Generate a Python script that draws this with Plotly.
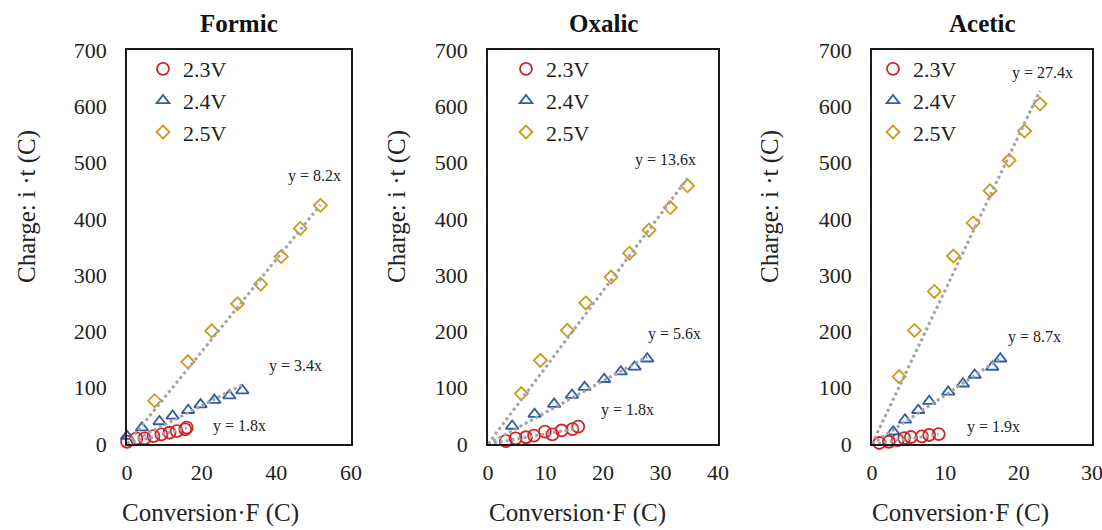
import plotly.graph_objects as go

W, H = 1102, 530

# ---- data -------------------------------------------------------------
panels = ["Formic", "Oxalic", "Acetic"]
voltages = ["2.3V", "2.4V", "2.5V"]

# Formic
formic_23_x = [0.0, 2.5, 4.7, 7.1, 9.2, 11.4, 13.3, 15.6, 16.0]
formic_23_y = [4, 10, 10, 14, 17, 20, 23, 26, 29]
formic_24_x = [0.0, 4.0, 8.7, 12.2, 16.4, 19.7, 23.4, 27.4, 30.9]
formic_24_y = [14, 29, 40, 50, 60, 70, 78, 86, 95]
formic_25_x = [7.4, 16.3, 22.7, 29.6, 35.8, 41.3, 46.4, 51.8]
formic_25_y = [77, 146, 201, 249, 284, 333, 383, 424]
formic_slopes = [1.8, 3.4, 8.2]

# Oxalic
oxalic_23_x = [3.1, 4.8, 6.6, 8.0, 9.9, 11.2, 12.8, 14.7, 15.7]
oxalic_23_y = [5, 10, 12, 15, 22, 17, 24, 26.5, 30.7]
oxalic_24_x = [4.2, 8.1, 11.5, 14.6, 16.8, 20.2, 23.1, 25.5, 27.7]
oxalic_24_y = [32, 53, 71, 87, 101, 115, 128.5, 137, 151.5]
oxalic_25_x = [5.8, 9.1, 13.8, 17.0, 21.4, 24.6, 28.0, 31.7, 34.7]
oxalic_25_y = [89.6, 148.6, 202, 250.6, 296.6, 339, 380, 420, 458.7]
oxalic_slopes = [1.8, 5.6, 13.6]

# Acetic
acetic_23_x = [1.0, 2.3, 3.5, 4.4, 5.3, 6.8, 7.8, 9.1]
acetic_23_y = [1.8, 4, 7, 10.6, 12.4, 13.6, 16, 17.7]
acetic_24_x = [2.9, 4.5, 6.3, 7.8, 10.4, 12.4, 14.0, 16.4, 17.5]
acetic_24_y = [22, 43, 60, 76, 92.6, 107, 122.6, 136.8, 151.5]
acetic_25_x = [3.7, 5.8, 8.5, 11.1, 13.8, 16.1, 18.7, 20.8, 22.9]
acetic_25_y = [119.7, 201.7, 271, 334, 392.7, 450, 504, 556, 604]
acetic_slopes = [1.9, 8.7, 27.4]

# equation label anchor points (data coords) per panel, order 2.3V/2.4V/2.5V
formic_label_xy = [(30.2, 32), (45.2, 138), (50.2, 477)]
oxalic_label_xy = [(24.3, 61), (32.5, 196), (30.9, 505)]
acetic_label_xy = [(16.5, 29.5), (22.2, 190), (23.2, 660)]

x_ranges = [(0, 60), (0, 40), (0, 30)]
x_dticks = [20, 10, 10]
y_range = (0, 700)
y_dtick = 100

series = [
    [(formic_23_x, formic_23_y), (formic_24_x, formic_24_y), (formic_25_x, formic_25_y)],
    [(oxalic_23_x, oxalic_23_y), (oxalic_24_x, oxalic_24_y), (oxalic_25_x, oxalic_25_y)],
    [(acetic_23_x, acetic_23_y), (acetic_24_x, acetic_24_y), (acetic_25_x, acetic_25_y)],
]
slopes = [formic_slopes, oxalic_slopes, acetic_slopes]
label_xy = [formic_label_xy, oxalic_label_xy, acetic_label_xy]

# ---- styling ----------------------------------------------------------
FONT = "Liberation Serif, Times New Roman, serif"
colors = ["#D42328", "#2F5DA6", "#C99A1C"]
symbols = ["circle-open", "triangle-up-open", "diamond-open"]
msizes = [12, 11, 10]
trend_color = "#A3A3A3"

# plot boxes in pixels (left, right), shared top/bottom
boxes = [(127, 351), (488, 718), (872, 1092)]
top_px, bot_px = 50, 444
ytitle_x = [27, 397, 770]
xtitle_x = [210, 577, 960]
legend_px = [(143, 48), (506, 48), (873, 48)]


def px(xp):
    return xp / W


def py(yp):
    return 1 - yp / H


fig = go.Figure()
annotations = []
legend_names = ["legend", "legend2", "legend3"]

for p in range(3):
    ax = "" if p == 0 else str(p + 1)
    xref, yref = "x" + ax, "y" + ax
    for s in range(3):
        xs, ys = series[p][s]
        fig.add_trace(go.Scatter(
            x=xs, y=ys, mode="markers", name=voltages[s],
            marker=dict(symbol=symbols[s], size=msizes[s], color=colors[s],
                        line=dict(width=1.8, color=colors[s])),
            cliponaxis=False, xaxis=xref, yaxis=yref,
            legend=legend_names[p], showlegend=True,
        ))
    for s in range(3):
        xs, _ = series[p][s]
        xmax = max(xs)
        k = slopes[p][s]
        fig.add_trace(go.Scatter(
            x=[0, xmax], y=[0, k * xmax], mode="lines",
            line=dict(color=trend_color, width=3, dash="dot"),
            showlegend=False, hoverinfo="skip", xaxis=xref, yaxis=yref,
        ))
        lx, ly = label_xy[p][s]
        annotations.append(dict(
            x=lx, y=ly, xref=xref, yref=yref, text=f"y = {k}x",
            showarrow=False, font=dict(family=FONT, size=16, color="#222222"),
        ))

    l, r = boxes[p]
    axis_common = dict(showgrid=False, zeroline=False, showline=True,
                       linecolor="#1a1a1a", linewidth=1.5, mirror=True,
                       ticks="", ticklabeloverflow="allow",
                       tickfont=dict(family=FONT, size=22, color="#222222"))
    fig.update_layout(**{
        "xaxis" + ax: dict(domain=[px(l), px(r)], range=list(x_ranges[p]),
                           dtick=x_dticks[p], anchor=yref,
                           ticklabelstandoff=8, **axis_common),
        "yaxis" + ax: dict(domain=[py(bot_px), py(top_px)], range=list(y_range),
                           dtick=y_dtick, anchor=xref,
                           ticklabelstandoff=14, **axis_common),
    })

    # panel title
    annotations.append(dict(
        x=px((l + r) / 2), y=py(24), xref="paper", yref="paper",
        xanchor="center", yanchor="middle",
        text=f"<b>{panels[p]}</b>", showarrow=False,
        font=dict(family=FONT, size=25, color="#111111"),
    ))
    # axis titles
    annotations.append(dict(
        x=px(ytitle_x[p]), y=py(207), xref="paper", yref="paper",
        xanchor="center", yanchor="middle",
        text="Charge: i ·t (C)", textangle=-90, showarrow=False,
        font=dict(family=FONT, size=25, color="#222222"),
    ))
    annotations.append(dict(
        x=px(xtitle_x[p]), y=py(513), xref="paper", yref="paper",
        xanchor="center", yanchor="middle",
        text="Conversion·F (C)", showarrow=False,
        font=dict(family=FONT, size=25, color="#222222"),
    ))

    lx, ly = legend_px[p]
    fig.update_layout(**{
        legend_names[p]: dict(
            x=px(lx), y=py(ly), xanchor="left", yanchor="top",
            bgcolor="rgba(0,0,0,0)", borderwidth=0,
            font=dict(family=FONT, size=22, color="#222222"),
            itemwidth=30, tracegroupgap=0,
        )
    })

fig.update_layout(
    width=W, height=H,
    margin=dict(l=0, r=0, t=0, b=0, autoexpand=False),
    paper_bgcolor="white", plot_bgcolor="white",
    annotations=annotations,
)

fig.write_html("out.html")
